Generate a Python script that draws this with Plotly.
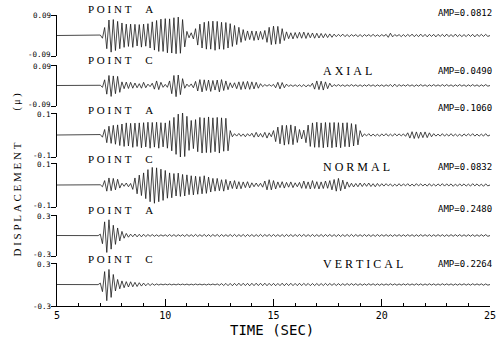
import numpy as np
import plotly.graph_objects as go

# time sampling (s): one sample every half period of the oscillation
T_START = 5.0
T_STEP = 0.1

# displacement samples, in thousandths of a micron (1e-3 μ), t = 5.0 .. 25.0
A_AXIAL = [
    0, 0, 0, 0, 0, 0, 0, 0, 0, 0,
    0, 0, 0, 0, 0, 0, 0, 0, 0, -1,
    2, -12, 35, -58, 68, -73, 70, -66, 62, -58,
    55, -52, 50, -48, 50, -52, 49, -46, 48, -51,
    50, -47, 52, -55, 60, -64, 66, -70, 72, -70,
    74, -76, 73, -77, 78, -80, 81, -78, 70, -50,
    18, -10, 12, -15, 30, -42, 50, -55, 58, -60,
    62, -60, 63, -65, 62, -60, 58, -61, 57, -55,
    52, -48, 44, -40, 36, -30, 26, -22, 20, -18,
    20, -22, 19, -20, 18, -17, 22, -30, 36, -40,
    41, -38, 40, -36, 30, -22, 16, -14, 12, -15,
    13, -12, 14, -12, 15, -13, 12, -10, 11, -12,
    10, -11, 9, -10, 8, -9, 7, -8, 6, -5,
    5, -4, 6, -5, 4, -5, 4, -3, 4, -5,
    4, -5, 4, -3, 4, -4, 5, -4, 3, -4,
    4, -3, 5, -8, 10, -6, 4, -3, 4, -5,
    4, -5, 5, -4, 6, -5, 4, -5, 6, -5,
    5, -6, 5, -4, 5, -6, 5, -4, 5, -5,
    6, -5, 4, -5, 6, -5, 4, -5, 4, -5,
    5, -4, 5, -6, 5, -4, 5, -4, 5, -4,
    0,
]
C_AXIAL = [
    0, 0, 0, 0, 0, 0, 0, 0, 0, 0,
    0, 0, 0, 0, 0, 0, 0, 0, 0, -1,
    1, -8, 25, -38, 44, -48, 42, -36, 40, -30,
    16, -14, 15, -13, 14, -12, 11, -10, 8, -12,
    14, -10, 6, -5, 10, -16, 20, -18, 14, -8,
    5, -8, 20, -36, 44, -49, 46, -40, 30, -12,
    6, -5, 7, -10, 18, -24, 26, -28, 25, -22,
    24, -26, 22, -20, 24, -28, 26, -22, 20, -18,
    12, -10, 12, -14, 16, -18, 17, -16, 18, -17,
    16, -15, 14, -12, 8, -5, 4, -3, 4, -3,
    5, -10, 14, -15, 13, -10, 6, -4, 3, -4,
    3, -4, 3, -5, 4, -6, 3, -4, 10, -16,
    20, -18, 19, -20, 16, -14, 10, -6, 4, -3,
    4, -3, 3, -4, 3, -3, 4, -3, 3, -4,
    3, -4, 3, -3, 4, -3, 3, -4, 3, -3,
    3, -4, 3, -3, 4, -5, 6, -5, 4, -3,
    3, -3, 4, -3, 3, -4, 3, -3, 4, -3,
    3, -4, 3, -3, 4, -3, 3, -3, 4, -3,
    4, -3, 3, -4, 3, -3, 4, -3, 3, -4,
    3, -3, 4, -3, 3, -4, 3, -3, 4, -3,
    0,
]
A_NORMAL = [
    0, 0, 0, 0, 0, 0, 0, 0, 0, 0,
    0, 0, 0, 0, 0, 0, 0, 0, 0, -1,
    2, -10, 25, -35, 40, -38, 44, -42, 46, -48,
    50, -52, 55, -50, 53, -56, 54, -52, 55, -58,
    56, -54, 58, -60, 57, -55, 58, -60, 56, -54,
    55, -60, 65, -72, 80, -88, 95, -100, 106, -98,
    85, -70, 66, -62, 70, -76, 80, -82, 78, -80,
    82, -80, 78, -76, 80, -82, 78, -74, 76, -72,
    20, -8, 6, -5, 7, -6, 5, -8, 6, -5,
    8, -10, 12, -9, 7, -10, 12, -14, 10, -8,
    20, -30, 36, -40, 44, -46, 44, -42, 46, -44,
    40, -34, 25, -18, 22, -35, 45, -52, 55, -56,
    58, -56, 55, -58, 57, -55, 56, -58, 57, -55,
    56, -58, 55, -53, 56, -54, 52, -50, 48, -45,
    20, -8, 5, -4, 6, -5, 4, -5, 4, -6,
    5, -4, 6, -5, 4, -5, 6, -4, 5, -4,
    5, -6, 10, -14, 15, -16, 14, -15, 13, -12,
    14, -12, 10, -8, 6, -5, 4, -5, 6, -5,
    4, -5, 6, -5, 4, -5, 4, -6, 5, -4,
    5, -4, 6, -5, 4, -5, 4, -5, 6, -5,
    0,
]
C_NORMAL = [
    0, 0, 0, 0, 0, 0, 0, 0, 0, 0,
    0, 0, 0, 0, 0, 0, 0, 0, 0, -1,
    1, -8, 20, -28, 32, -26, 30, -22, 26, -14,
    8, -6, 9, -8, 7, -20, 32, -40, 45, -48,
    55, -62, 70, -76, 80, -83, 78, -76, 72, -70,
    66, -60, 55, -58, 52, -50, 54, -52, 48, -50,
    46, -44, 42, -45, 40, -42, 38, -40, 42, -38,
    36, -32, 30, -28, 30, -26, 24, -28, 25, -22,
    18, -16, 20, -18, 15, -17, 14, -12, 15, -13,
    10, -8, 9, -7, 8, -10, 18, -22, 24, -22,
    20, -18, 14, -12, 15, -14, 12, -10, 14, -12,
    10, -8, 12, -15, 18, -16, 14, -18, 20, -16,
    15, -18, 14, -16, 18, -15, 20, -22, 25, -28,
    30, -26, 22, -18, 14, -10, 8, -9, 7, -8,
    9, -7, 8, -6, 9, -7, 6, -8, 7, -6,
    6, -5, 6, -4, 5, -6, 4, -5, 6, -5,
    5, -4, 6, -5, 4, -5, 6, -4, 5, -4,
    4, -5, 6, -5, 4, -5, 5, -4, 6, -5,
    5, -4, 5, -6, 4, -5, 5, -4, 5, -5,
    4, -5, 6, -4, 5, -5, 4, -6, 5, -4,
    0,
]
A_VERTICAL = [
    0, 0, 0, 0, 0, 0, 0, 0, 0, 0,
    0, 0, 0, 0, 0, 0, 0, 0, 0, -2,
    20, -120, 200, -248, 230, -200, 150, -130, 110, -80,
    60, -40, 30, -25, 20, -18, 22, -20, 18, -20,
    18, -16, 14, -12, 14, -12, 10, -12, 10, -9,
    10, -12, 14, -12, 13, -14, 12, -10, 12, -14,
    15, -13, 12, -14, 16, -14, 12, -13, 15, -14,
    13, -15, 14, -12, 15, -16, 14, -13, 12, -14,
    15, -14, 16, -15, 13, -14, 15, -16, 14, -13,
    14, -15, 13, -14, 16, -15, 14, -13, 15, -14,
    15, -14, 13, -15, 14, -16, 15, -13, 14, -15,
    14, -13, 15, -14, 16, -15, 13, -14, 15, -14,
    13, -14, 15, -16, 14, -13, 15, -14, 13, -15,
    14, -15, 13, -14, 15, -14, 16, -15, 14, -13,
    12, -13, 14, -12, 13, -14, 12, -13, 14, -12,
    12, -11, 13, -12, 11, -13, 12, -11, 13, -12,
    11, -12, 13, -11, 12, -13, 11, -12, 13, -11,
    12, -11, 12, -13, 11, -12, 13, -11, 12, -13,
    11, -12, 13, -11, 12, -11, 13, -12, 11, -12,
    12, -11, 12, -13, 11, -12, 12, -11, 13, -12,
    0,
]
C_VERTICAL = [
    0, 0, 0, 0, 0, 0, 0, 0, 0, 0,
    0, 0, 0, 0, 0, 0, 0, 0, 0, -2,
    20, -100, 180, -226, 210, -180, 140, -90, 70, -60,
    50, -45, 40, -35, 38, -32, 30, -28, 25, -22,
    20, -18, 16, -14, 12, -10, 8, -7, 6, -5,
    6, -5, 7, -6, 5, -6, 7, -5, 6, -5,
    6, -7, 5, -6, 7, -5, 6, -6, 5, -7,
    6, -5, 7, -6, 8, -10, 12, -14, 15, -16,
    15, -17, 16, -15, 18, -16, 17, -15, 16, -18,
    17, -16, 18, -15, 17, -16, 18, -17, 16, -15,
    16, -17, 15, -16, 18, -17, 16, -15, 17, -16,
    15, -16, 17, -15, 16, -14, 15, -16, 14, -15,
    14, -15, 13, -14, 15, -13, 14, -12, 13, -14,
    12, -13, 11, -12, 13, -11, 12, -10, 11, -12,
    10, -11, 9, -10, 11, -9, 10, -11, 9, -10,
    9, -10, 8, -9, 10, -8, 9, -10, 8, -9,
    9, -8, 10, -9, 8, -9, 10, -8, 9, -10,
    8, -9, 10, -8, 9, -10, 8, -9, 10, -8,
    9, -8, 9, -10, 8, -9, 9, -8, 10, -9,
    8, -9, 10, -8, 9, -8, 9, -10, 8, -9,
    0,
]

SERIES = [A_AXIAL, C_AXIAL, A_NORMAL, C_NORMAL, A_VERTICAL, C_VERTICAL]
POINT_LABELS = ["POINT A", "POINT C", "POINT A", "POINT C", "POINT A", "POINT C"]
AMP_LABELS = ["AMP=0.0812", "AMP=0.0490", "AMP=0.1060", "AMP=0.0832", "AMP=0.2480", "AMP=0.2264"]
Y_LIMITS = [0.09, 0.09, 0.1, 0.1, 0.3, 0.3]
Y_TICK_TEXT = [("-0.09", "0.09"), ("-0.09", "0.09"), ("-0.1", "0.1"),
               ("-0.1", "0.1"), ("-0.3", "0.3"), ("-0.3", "0.3")]
COMPONENTS = ["AXIAL", "NORMAL", "VERTICAL"]
X_TICKS = [5, 10, 15, 20, 25]

# ---- layout geometry (pixels in the 501x340 page) ----
W, H = 501, 340
PLOT_L, PLOT_R, PLOT_T, PLOT_B = 57, 496, 15, 306
PANELS_PX = [(15, 56), (65, 106), (113, 157), (163, 207), (215, 256), (263, 306)]
TOP_LABEL_Y = [15, 66, 114.5, 164.5, 216, 264.5]
BOT_LABEL_Y = [54.5, 104.5, 155, 205.5, 254.5, 306]
POINT_Y = [9, 60, 110, 159, 210, 259]
AMP_Y = [13, 71, 108, 167, 209, 264]
COMP_Y = [71, 167, 264]


def py(ypix):
    return (PLOT_B - ypix) / (PLOT_B - PLOT_T)


def px(xpix):
    return (xpix - PLOT_L) / (PLOT_R - PLOT_L)


def spaced(s):
    return "\u00a0".join(s)


t = np.round(T_START + T_STEP * np.arange(len(A_AXIAL)), 3)

fig = go.Figure()
layout = dict(
    width=W, height=H, autosize=False,
    margin=dict(l=PLOT_L, r=W - PLOT_R, t=PLOT_T, b=H - PLOT_B, pad=0),
    paper_bgcolor="white", plot_bgcolor="white",
    showlegend=False,
    font=dict(family="DejaVu Sans Mono", color="black"),
)

ann = []
for k, vals in enumerate(SERIES):
    idx = "" if k == 0 else str(k + 1)
    fig.add_trace(go.Scatter(
        x=t, y=np.array(vals) / 1000.0, mode="lines",
        line=dict(color="#1a1a1a", width=0.8),
        xaxis="x", yaxis="y" + idx, hoverinfo="skip",
    ))
    top, bot = PANELS_PX[k]
    lim = Y_LIMITS[k]
    layout["yaxis" + idx] = dict(
        domain=[py(bot), py(top)], range=[-lim, lim], anchor="x",
        tickvals=[-lim, lim], showticklabels=False,
        showline=True, linecolor="black", linewidth=1,
        ticks="outside", ticklen=5, tickcolor="black", tickwidth=1,
        showgrid=False, zeroline=False, fixedrange=True,
    )
    lo_txt, hi_txt = Y_TICK_TEXT[k]
    for txt, yy in ((hi_txt, TOP_LABEL_Y[k]), (lo_txt, BOT_LABEL_Y[k])):
        ann.append(dict(text=txt, x=px(50.5), y=py(yy), xref="paper", yref="paper",
                        xanchor="right", yanchor="middle", showarrow=False,
                        borderpad=0, borderwidth=0,
                        font=dict(family="DejaVu Sans Mono", size=7.5, color="black")))

layout["xaxis"] = dict(
    domain=[0, 1], range=[5, 25], anchor="y6",
    tickvals=X_TICKS, ticktext=[str(v) for v in X_TICKS],
    showline=True, linecolor="black", linewidth=1,
    ticks="inside", ticklen=7, tickcolor="black", tickwidth=1,
    minor=dict(ticks="inside", dtick=1, tick0=5, ticklen=3, tickcolor="black", showgrid=False),
    tickfont=dict(family="DejaVu Sans Mono", size=10, color="black"),
    ticklabeloverflow="allow",
    showgrid=False, zeroline=False, fixedrange=True,
)

for k in range(6):
    ann.append(dict(text=spaced(POINT_LABELS[k].replace(" ", "  ")),
                    x=px(86), y=py(POINT_Y[k]), xref="paper", yref="paper",
                    xanchor="left", yanchor="middle", showarrow=False,
                    font=dict(family="Liberation Serif", size=11, color="black")))
    ann.append(dict(text=AMP_LABELS[k], x=px(500), y=py(AMP_Y[k]), xref="paper", yref="paper",
                    xanchor="right", yanchor="middle", showarrow=False,
                    font=dict(family="DejaVu Sans Mono", size=9, color="black")))
for j, c in enumerate(COMPONENTS):
    ann.append(dict(text=spaced(c), x=px(325), y=py(COMP_Y[j]), xref="paper", yref="paper",
                    xanchor="left", yanchor="middle", showarrow=False,
                    font=dict(family="Liberation Serif", size=12, color="black")))

ann.append(dict(text="TIME (SEC)", x=px(275), y=py(330), xref="paper", yref="paper",
                xanchor="center", yanchor="middle", showarrow=False,
                borderpad=0,
                font=dict(family="DejaVu Sans Mono", size=14, color="black")))
ann.append(dict(text=spaced("DISPLACEMENT"),
                x=px(16), y=py(200), xref="paper", yref="paper",
                xanchor="center", yanchor="middle", textangle=-90, showarrow=False,
                font=dict(family="Liberation Serif", size=11, color="black")))
ann.append(dict(text="(\u00a0μ\u00a0)",
                x=px(16), y=py(102), xref="paper", yref="paper",
                xanchor="center", yanchor="middle", textangle=-90, showarrow=False,
                font=dict(family="Liberation Serif", size=10, color="black")))
layout["annotations"] = ann

fig.update_layout(**layout)
fig.write_html("out.html", config={"staticPlot": True},
               post_script="document.body.style.margin='0';")
